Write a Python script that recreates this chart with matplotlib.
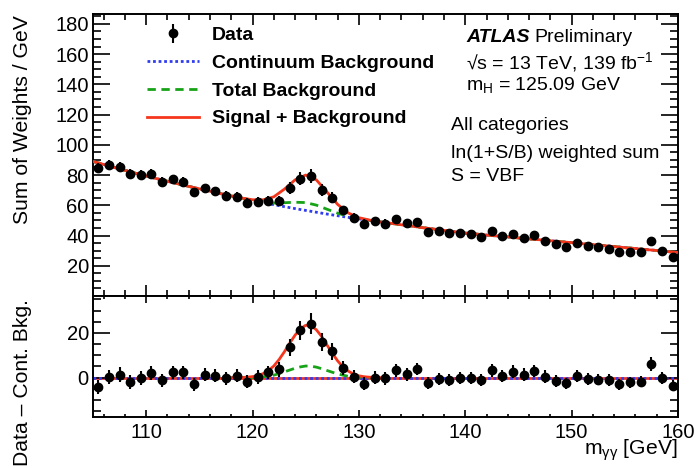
import numpy as np
import matplotlib
matplotlib.use('Agg')
import matplotlib.pyplot as plt
from matplotlib.ticker import MultipleLocator

plt.rcParams['font.family'] = ['Liberation Sans', 'DejaVu Sans']
plt.rcParams['mathtext.fontset'] = 'custom'
plt.rcParams['mathtext.rm'] = 'Liberation Sans'
plt.rcParams['mathtext.it'] = 'Liberation Sans:italic'
plt.rcParams['mathtext.bf'] = 'Liberation Sans:bold'

# bin centres 105.5 ... 159.5
mass = np.arange(105.5, 160, 1.0)

# data, top panel (sum of weights / GeV)
data_top = [84.6, 86.8, 85.5, 80.7, 80.2, 80.7, 75.6, 77.1, 75.6, 68.6,
            71.2, 69.3, 66.2, 65.8, 61.8, 62.5, 63.1, 63.0, 71.4, 77.4,
            79.6, 70.1, 65.1, 56.6, 51.7, 47.8, 49.3, 47.8, 50.6, 48.2,
            48.9, 42.3, 43.2, 41.8, 41.8, 41.0, 39.2, 42.7, 39.9, 41.0,
            38.6, 40.1, 36.6, 34.2, 32.4, 35.3, 33.1, 32.2, 31.3, 29.1,
            29.3, 29.1, 36.1, 29.6, 26.0]

# data minus continuum background, bottom panel
data_res = [-4.2, 0.3, 1.4, -2.0, 0.0, 2.1, -1.2, 2.3, 2.4, -3.0,
            1.4, 0.9, -0.3, 0.9, -1.8, 0.2, 2.3, 3.8, 13.5, 21.1,
            24.1, 15.8, 11.7, 4.4, 0.3, -2.7, 0.0, -0.3, 3.2, 1.5,
            3.8, -2.4, -0.6, -1.1, -0.2, -0.2, -1.2, 3.2, 0.9, 2.7,
            1.4, 3.0, 0.5, -1.5, -2.6, 0.8, -0.6, -0.9, -1.1, -3.0,
            -2.0, -1.8, 6.1, -0.2, -3.6]

errors = [3.2, 3.2, 3.2, 3.1, 3.1, 3.1, 3.0, 3.0, 3.0, 3.0,
          3.0, 3.0, 3.0, 3.0, 3.0, 3.0, 3.1, 3.3, 3.8, 4.3,
          4.6, 4.0, 3.6, 3.0, 2.9, 2.8, 2.8, 2.8, 2.9, 2.8,
          2.8, 2.7, 2.7, 2.7, 2.7, 2.7, 2.7, 2.8, 2.7, 2.8,
          2.7, 2.8, 2.7, 2.6, 2.6, 2.7, 2.6, 2.6, 2.6, 2.5,
          2.5, 2.5, 3.0, 2.5, 2.4]

# continuum background fit, read at 1 GeV steps 105 ... 160
cont_x = np.arange(105, 161, 1.0)
cont_y = [89.0, 87.0, 85.0, 83.1, 81.2, 79.4, 77.6, 75.9, 74.2, 72.5,
          70.9, 69.3, 67.7, 66.2, 64.7, 63.2, 61.8, 60.4, 59.1, 57.8,
          56.6, 55.4, 54.2, 53.1, 52.0, 51.0, 50.0, 49.0, 48.1, 47.1,
          46.2, 45.2, 44.3, 43.4, 42.5, 41.6, 41.0, 40.3, 39.7, 39.1,
          38.4, 37.8, 37.2, 36.5, 35.9, 35.3, 34.6, 34.0, 33.3, 32.7,
          32.0, 31.4, 30.7, 30.1, 29.4, 28.8]

# signal and resonant background on top of the continuum, 0.5 GeV steps
sig_x = np.arange(118, 132.5, 0.5)
sig_y = [0.0, 0.03, 0.09, 0.2, 0.45, 0.9, 1.8, 3.2, 5.2, 8.1,
         11.6, 15.4, 19.0, 21.9, 23.4, 23.2, 21.4, 18.4, 14.6, 10.9,
         7.5, 4.8, 2.9, 1.6, 0.8, 0.4, 0.2, 0.08, 0.0]
res_y = [0.0, 0.0, 0.02, 0.04, 0.1, 0.2, 0.4, 0.7, 1.1, 1.8,
         2.6, 3.4, 4.2, 4.8, 5.2, 5.1, 4.7, 4.0, 3.2, 2.4,
         1.7, 1.1, 0.6, 0.35, 0.18, 0.09, 0.04, 0.02, 0.0]

red = '#f5361c'
blue = '#2f3cf0'
green = '#17a317'

cont_y = np.array(cont_y)
sig_y = np.array(sig_y)
res_y = np.array(res_y)

# totals on the 1 GeV grid for the top panel
on_grid = (sig_x % 1 == 0)
idx = np.searchsorted(cont_x, sig_x[on_grid])
total_bkg = cont_y.copy()
total_bkg[idx] += res_y[on_grid]
sig_bkg = cont_y.copy()
sig_bkg[idx] += sig_y[on_grid]

fig = plt.figure(figsize=(6.97, 4.68), dpi=100)
ax1 = fig.add_axes([0.1334, 0.3675, 0.8393, 0.6026])
ax2 = fig.add_axes([0.1334, 0.1090, 0.8393, 0.2585], sharex=ax1)

# top panel
ax1.plot(cont_x, cont_y, color=blue, ls=(0, (1, 1)), lw=2, zorder=2,
         label='Continuum Background')
ax1.plot(cont_x, total_bkg, color=green, ls=(0, (3, 2)), lw=2, zorder=3,
         label='Total Background')
ax1.plot(cont_x, sig_bkg, color=red, lw=2, zorder=4,
         label='Signal + Background')
ax1.errorbar(mass, data_top, yerr=errors, fmt='o', color='black', ms=6,
             elinewidth=1.5, capsize=0, zorder=5, label='Data')

ax1.set_xlim(105, 160)
ax1.set_ylim(0, 186.5)
ax1.yaxis.set_major_locator(MultipleLocator(20))
ax1.yaxis.set_minor_locator(MultipleLocator(5))
ax1.xaxis.set_major_locator(MultipleLocator(10))
ax1.xaxis.set_minor_locator(MultipleLocator(2))
ax1.tick_params(axis='x', labelbottom=False)
ax1.set_yticks([20, 40, 60, 80, 100, 120, 140, 160, 180])

handles, labels = ax1.get_legend_handles_labels()
order = [3, 0, 1, 2]
leg = ax1.legend([handles[i] for i in order], [labels[i] for i in order],
                 loc='upper left', bbox_to_anchor=(0.092, 0.955),
                 frameon=False, handlelength=2.7,
                 handletextpad=0.65, labelspacing=0.52, borderpad=0,
                 borderaxespad=0, prop={'weight': 'bold', 'size': 14})

fs = 14
atlas = ax1.text(0.638, 0.918, 'ATLAS', transform=ax1.transAxes,
                 fontsize=fs, va='center', weight='bold', style='italic')
fig.canvas.draw()
bb = atlas.get_window_extent().transformed(ax1.transAxes.inverted())
ax1.text(bb.x1 + 0.008, 0.918, 'Preliminary', transform=ax1.transAxes,
         fontsize=fs, va='center')
ax1.text(0.638, 0.830, '√s = 13 TeV, 139 fb$^{\\mathregular{-1}}$',
         transform=ax1.transAxes, fontsize=fs, va='center')
ax1.text(0.638, 0.748, 'm$_{\\mathregular{H}}$ = 125.09 GeV',
         transform=ax1.transAxes, fontsize=fs, va='center')
ax1.text(0.612, 0.606, 'All categories',
         transform=ax1.transAxes, fontsize=fs, va='center')
ax1.text(0.612, 0.507, 'ln(1+S/B) weighted sum',
         transform=ax1.transAxes, fontsize=fs, va='center')
ax1.text(0.612, 0.422, 'S = VBF',
         transform=ax1.transAxes, fontsize=fs, va='center')

# bottom panel
ax2.axhline(0, color=red, lw=2, zorder=1)
ax2.axhline(0, color=blue, ls=(0, (1, 1)), lw=2, zorder=2)
ax2.plot(sig_x, res_y, color=green, ls=(0, (3, 2)), lw=2, zorder=3)
ax2.plot(sig_x, sig_y, color=red, lw=2, zorder=4)
ax2.errorbar(mass, data_res, yerr=errors, fmt='o', color='black', ms=6,
             elinewidth=1.5, capsize=0, zorder=5)
ax2.set_ylim(-17.6, 36.5)
ax2.yaxis.set_major_locator(MultipleLocator(20))
ax2.yaxis.set_minor_locator(MultipleLocator(5))
ax2.set_yticks([0, 20])

for ax in (ax1, ax2):
    for s in ax.spines.values():
        s.set_linewidth(1.4)
    ax.tick_params(which='both', direction='in', top=True, right=True,
                   labelsize=14.5, width=1.2)
    ax.tick_params(axis='y', which='major', length=12, pad=3)
    ax.tick_params(axis='y', which='minor', length=5.5)
    ax.tick_params(axis='x', which='major', length=8, pad=4)
    ax.tick_params(axis='x', which='minor', length=4)

ax2.tick_params(axis='x', which='major', length=5)
ax2.tick_params(axis='x', which='minor', length=2.5)

fig.text(0.032, 0.968, 'Sum of Weights / GeV', rotation=90, ha='center',
         va='top', fontsize=15.2)
fig.text(0.032, 0.36, 'Data – Cont. Bkg.', rotation=90, ha='center',
         va='top', fontsize=15.2)
fig.text(0.972, 0.028, 'm$_{\\mathregular{γγ}}$ [GeV]', ha='right',
         va='baseline', fontsize=15.2)

fig.savefig('out.png', dpi=100)
